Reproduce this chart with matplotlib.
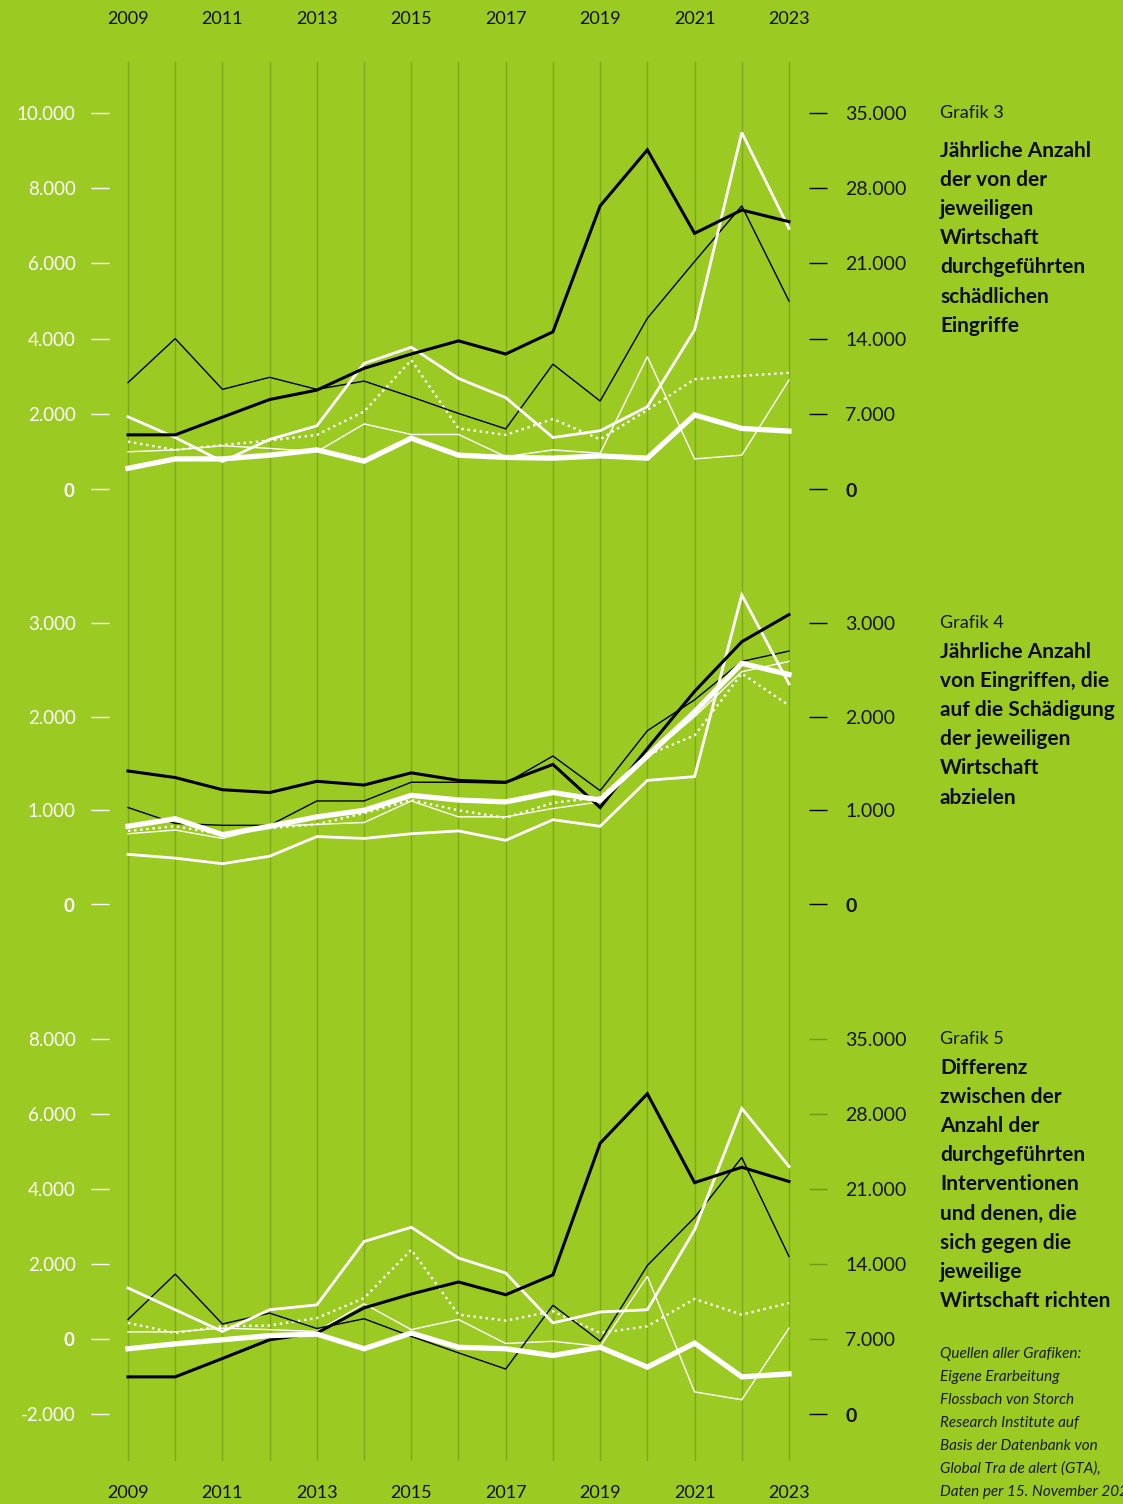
import matplotlib
matplotlib.use("Agg")
import matplotlib.pyplot as plt

plt.rcParams['font.family'] = ['Lato', 'DejaVu Sans']
plt.rcParams['mathtext.fontset'] = 'custom'
plt.rcParams['mathtext.rm'] = 'Lato'
plt.rcParams['mathtext.bf'] = 'Lato:bold'

BG = '#9bca23'
GRID = '#7ea81c'
W, H = 1123, 1504

years = list(range(2009, 2024))

g3_black_thick = [1440, 1440, 1910, 2380, 2630, 3210, 3590, 3940, 3590, 4180, 7530, 9020, 6800, 7420, 7110]
g3_black_thin = [2830, 4000, 2650, 2970, 2650, 2870, 2450, 2010, 1600, 3320, 2340, 4540, 6050, 7530, 5000]
g3_white_mid = [1920, 1370, 730, 1320, 1680, 3340, 3770, 2940, 2430, 1370, 1550, 2190, 4230, 9480, 6930]
g3_white_dot = [1260, 1040, 1170, 1290, 1440, 2060, 3430, 1610, 1440, 1860, 1320, 2100, 2920, 3010, 3090]
g3_white_thin = [990, 1040, 1150, 1080, 990, 1730, 1450, 1450, 860, 1040, 950, 3520, 800, 900, 2900]
g3_white_thick = [550, 800, 800, 900, 1040, 740, 1350, 900, 840, 820, 880, 820, 1970, 1610, 1540]

# Grafik 4
g4_black_thick = [1420, 1350, 1220, 1190, 1310, 1270, 1400, 1320, 1300, 1490, 1030, 1660, 2270, 2800, 3090]
g4_black_thin = [1030, 860, 840, 840, 1100, 1100, 1300, 1300, 1290, 1580, 1210, 1850, 2180, 2590, 2700]
g4_white_mid = [530, 490, 430, 510, 720, 700, 750, 780, 680, 900, 830, 1320, 1360, 3300, 2350]
g4_white_dot = [780, 830, 740, 810, 850, 970, 1110, 1000, 920, 1080, 1140, 1590, 1800, 2460, 2120]
g4_white_thin = [750, 790, 700, 830, 850, 870, 1100, 930, 930, 1020, 1090, 1570, 2000, 2480, 2590]
g4_white_thick = [830, 910, 740, 830, 930, 1000, 1160, 1110, 1090, 1190, 1110, 1580, 2050, 2570, 2450]

# Grafik 5
g5_black_thick = [-1010, -1010, -520, -20, 160, 830, 1200, 1520, 1180, 1710, 5220, 6540, 4170, 4580, 4200]
g5_black_thin = [520, 1730, 400, 690, 280, 540, 70, -370, -800, 900, -60, 1960, 3240, 4840, 2200]
g5_white_mid = [1360, 780, 200, 780, 910, 2600, 2980, 2160, 1760, 430, 720, 780, 2910, 6150, 4600]
g5_white_dot = [430, 160, 340, 360, 560, 1090, 2380, 650, 490, 740, 160, 340, 1070, 650, 960]
g5_white_thin = [190, 190, 290, 250, 200, 940, 250, 520, -120, -60, -200, 1670, -1410, -1620, 290]
g5_white_thick = [-260, -130, -20, 90, 130, -260, 160, -220, -260, -440, -220, -750, -110, -1010, -930]

top_years = list(range(2009, 2024, 2))

# zero gets its own (bold) tick, so it is not in these lists
g3_left_ticks = [2000, 4000, 6000, 8000, 10000]
g3_right_ticks = [7000, 14000, 21000, 28000, 35000]
g4_left_ticks = [1000, 2000, 3000]
g4_right_ticks = [1000, 2000, 3000]
g5_left_ticks = [-2000, 2000, 4000, 6000, 8000]
g5_right_ticks = [7000, 14000, 21000, 28000, 35000]

titles = [
    ("Grafik 3", "Jährliche Anzahl\nder von der\njeweiligen\nWirtschaft\ndurchgeführten\nschädlichen\nEingriffe"),
    ("Grafik 4", "Jährliche Anzahl\nvon Eingriffen, die\nauf die Schädigung\nder jeweiligen\nWirtschaft\nabzielen"),
    ("Grafik 5", "Differenz\nzwischen der\nAnzahl der\ndurchgeführten\nInterventionen\nund denen, die\nsich gegen die\njeweilige\nWirtschaft richten"),
]
source = ("Quellen aller Grafiken:\nEigene Erarbeitung\nFlossbach von Storch\nResearch Institute auf\n"
          "Basis der Datenbank von\nGlobal Tra de alert (GTA),\nDaten per 15. November 2024")

X0, X1 = 109, 809
XL = (2009 - 19 / 47.21, 2023 + 20 / 47.21)


def rect(y0, y1, x0=X0, x1=X1):
    return [x0 / W, 1 - y1 / H, (x1 - x0) / W, (y1 - y0) / H]


def de(v):
    return "{:,}".format(v).replace(",", ".")


fig = plt.figure(figsize=(W / 100, H / 100), dpi=100, facecolor=BG)

# background axes with the vertical year lines and year labels
bg = fig.add_axes(rect(62, 1461))
bg.set_facecolor(BG)
bg.set_xlim(*XL)
bg.set_ylim(0, 1)
for y in years:
    bg.axvline(y, color=GRID, lw=1.0)
for s in bg.spines.values():
    s.set_visible(False)
bg.set_yticks([])
bg.set_xticks(top_years, [str(y) for y in top_years])
bg.tick_params(axis='x', length=0, pad=17, labelsize=13, labelcolor='#111111')
top = bg.secondary_xaxis('top')
top.set_xticks(top_years, [str(y) for y in top_years])
top.tick_params(length=0, pad=25, labelsize=13, labelcolor='#111111')
top.spines['top'].set_visible(False)

panels = [
    (113, 489, (0, 10000), (0, 35000), g3_left_ticks, g3_right_ticks,
     [g3_white_thin, g3_white_dot, g3_black_thin, g3_white_mid, g3_black_thick, g3_white_thick], 'black'),
    (623, 904, (0, 3000), (0, 3000), g4_left_ticks, g4_right_ticks,
     [g4_white_thin, g4_white_dot, g4_black_thin, g4_white_mid, g4_black_thick, g4_white_thick], 'black'),
    (1039, 1414, (-2000, 8000), (0, 35000), g5_left_ticks, g5_right_ticks,
     [g5_white_thin, g5_white_dot, g5_black_thin, g5_white_mid, g5_black_thick, g5_white_thick], '#6f9a1c'),
]

styles = [
    dict(color='white', lw=1.0),
    dict(color='white', lw=1.7, linestyle=(0, (1, 1.6))),
    dict(color='black', lw=1.0),
    dict(color='white', lw=2.0),
    dict(color='black', lw=2.2),
    dict(color='white', lw=3.8),
]

ZERO = r'$\mathbf{0}$'

for i, (ya, yb, yl, yr, lt, rt, series, rcol) in enumerate(panels):
    ax = fig.add_axes(rect(ya, yb))
    ax.patch.set_alpha(0)
    ax.set_xlim(*XL)
    ax.set_ylim(*yl)
    for s in ax.spines.values():
        s.set_visible(False)
    ax.set_xticks([])
    for vals, st in zip(series, styles):
        ax.plot(years, vals, clip_on=False, solid_joinstyle='miter', **st)
    ax.set_yticks(lt, [de(v) for v in lt])
    ax.set_yticks([0], [ZERO], minor=True)
    ax.tick_params(axis='y', which='both', length=13, width=1.0, color='white', pad=11,
                   labelsize=13.5, labelcolor='white')

    ax2 = ax.twinx()
    ax2.set_ylim(*yr)
    for s in ax2.spines.values():
        s.set_visible(False)
    ax2.set_yticks(rt, [de(v) for v in rt])
    ax2.set_yticks([0], [ZERO], minor=True)
    ax2.tick_params(axis='y', which='major', length=13, width=1.0, color=rcol, pad=13,
                    labelsize=14, labelcolor='#151515')
    ax2.tick_params(axis='y', which='minor', length=13, width=1.0, color='black', pad=13,
                    labelsize=14, labelcolor='#151515')

    head, body = titles[i]
    fig.text(940 / W, 1 - ya / H, head, fontsize=13, color='#151515', va='center', ha='left')
    gap = 37 if i == 0 else 28
    fig.text(940 / W, 1 - (ya + gap - 9) / H, body, fontsize=15, fontweight='bold',
             color='#0d0d0d', va='top', ha='left', linespacing=1.57)

fig.text(940 / W, 1 - 1347 / H, source, fontsize=11, style='italic', color='#1a1a1a',
         va='top', ha='left', linespacing=1.81)

fig.savefig('out.png', dpi=100, facecolor=BG)
